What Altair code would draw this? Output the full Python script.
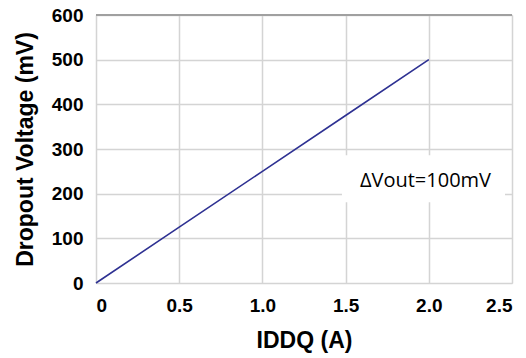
import altair as alt
import pandas as pd

iddq = [0.0, 0.5, 1.0, 1.5, 2.0]
dropout_mv = [0, 125, 250, 375, 500]

x_ticks = [0, 0.5, 1.0, 1.5, 2.0, 2.5]
y_ticks = [0, 100, 200, 300, 400, 500, 600]

note_text = "ΔVout=100mV"
note_box = {"x": 1.478, "x2": 2.458, "y": 181, "y2": 286}
note_pos = {"x": 1.98, "y": 228}

df = pd.DataFrame({"x": iddq, "y": dropout_mv})

xscale = alt.Scale(domain=[0, 2.5], nice=False)
yscale = alt.Scale(domain=[0, 600], nice=False)

FONT = "Liberation Sans"

line = alt.Chart(df).mark_line(color="#2e3192", strokeWidth=1.6).encode(
    x=alt.X("x:Q", scale=xscale,
            axis=alt.Axis(values=x_ticks, title="IDDQ (A)",
                          labelExpr="datum.value == 0 ? '0' : format(datum.value, '.1f')",
                          grid=True, gridColor="#d4d4d4", gridWidth=1.5,
                          domain=False, ticks=False,
                          labelFont=FONT, labelFontSize=19, labelFontWeight="bold",
                          labelColor="#000", labelPadding=13,
                          titleFont=FONT, titleFontSize=23, titleFontWeight="bold",
                          titleColor="#000", titlePadding=14)),
    y=alt.Y("y:Q", scale=yscale,
            axis=alt.Axis(values=y_ticks, title="Dropout Voltage (mV)",
                          grid=True, gridColor="#d4d4d4", gridWidth=1.5,
                          domain=False, ticks=False,
                          labelFont=FONT, labelFontSize=19, labelFontWeight="bold",
                          labelColor="#000", labelPadding=13,
                          titleFont=FONT, titleFontSize=23, titleFontWeight="bold",
                          titleColor="#000", titlePadding=14)),
)

top_df = pd.DataFrame({"y": [600]})
top_rule = alt.Chart(top_df).mark_rule(color="#a0a0a0", strokeWidth=2).encode(
    y=alt.Y("y:Q", scale=yscale)
)

box_df = pd.DataFrame([note_box])
box = alt.Chart(box_df).mark_rect(color="white").encode(
    x=alt.X("x:Q", scale=xscale), x2="x2:Q",
    y=alt.Y("y:Q", scale=yscale), y2="y2:Q",
)

txt_df = pd.DataFrame([{"x": note_pos["x"], "y": note_pos["y"], "t": note_text}])
txt = alt.Chart(txt_df).mark_text(font="Open Sans", fontSize=20, color="#000",
                                  align="center", baseline="middle").encode(
    x=alt.X("x:Q", scale=xscale),
    y=alt.Y("y:Q", scale=yscale),
    text="t:N",
)

chart = alt.layer(box, top_rule, line, txt).properties(
    width=416, height=268,
    autosize=alt.AutoSizeParams(type="none"),
    padding={"left": 88, "top": 7, "right": 2, "bottom": 75},
).configure_view(stroke="#d4d4d4", strokeWidth=1.5).configure(background="white")

chart.save("out.html", embed_options={"renderer": "svg", "actions": False})
